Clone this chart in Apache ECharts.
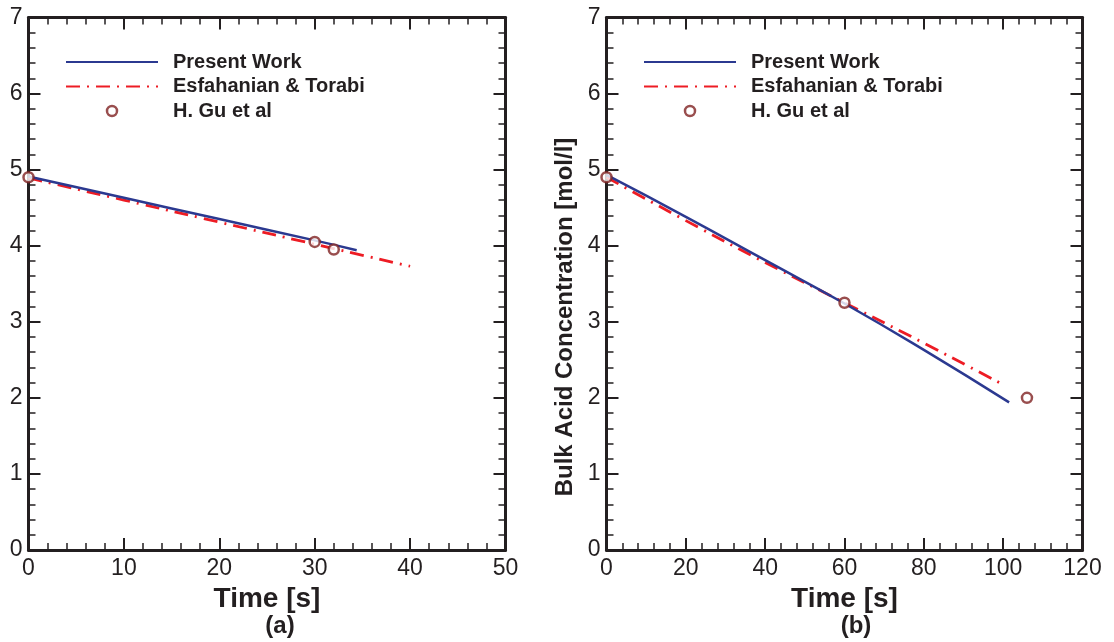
<!DOCTYPE html>
<html>
<head>
<meta charset="utf-8">
<script src="https://cdn.jsdelivr.net/npm/echarts@6/dist/echarts.min.js"></script>
<style>
html,body{margin:0;padding:0;background:#fff;}
#chart{width:1114px;height:642px;}
</style>
</head>
<body>
<div id="chart"></div>
<script>
// ---- Data (a) ----
const timeA_present = [0, 10, 20, 30, 34.4];
const concA_present = [4.91, 4.63, 4.35, 4.07, 3.94];
const timeA_esf = [0, 10, 20, 30, 40];
const concA_esf = [4.89, 4.60, 4.31, 4.02, 3.73];
const timeA_gu = [0, 30, 32];
const concA_gu = [4.9, 4.05, 3.95];
// ---- Data (b) ----
const timeB_present = [0, 20, 40, 60, 80, 101.5];
const concB_present = [4.93, 4.38, 3.81, 3.24, 2.63, 1.94];
const timeB_esf = [0, 20, 40, 60, 80, 99.4];
const concB_esf = [4.9, 4.33, 3.78, 3.25, 2.72, 2.19];
const timeB_gu = [0, 60, 106];
const concB_gu = [4.9, 3.25, 2.0];
// ---- Labels ----
const seriesNames = ['Present Work', 'Esfahanian & Torabi', 'H. Gu et al'];
const xTitle = 'Time [s]';
const yTitle = 'Bulk Acid Concentration [mol/l]';
const panelLabels = ['(a)', '(b)'];

const zip = (xs, ys) => xs.map((x, i) => [x, ys[i]]);

const INK = '#231f20';
const BLUE = '#2b3990';
const RED = '#ed1c24';
const BROWN = '#7f2222';
const FONT = '"Liberation Sans", Arial, sans-serif';

function xAxisCfg(gridIndex, pos, max, showLabel) {
  return {
    type: 'value', gridIndex, position: pos, min: 0, max, interval: max === 120 ? 20 : 10,
    axisLine: { show: true, onZero: false, lineStyle: { color: INK, width: 3 } },
    axisTick: { show: true, inside: true, length: 12, lineStyle: { color: INK, width: 2 } },
    minorTick: { show: true, splitNumber: 5, length: 7, lineStyle: { color: INK, width: 1.5 } },
    splitLine: { show: false },
    axisLabel: { show: showLabel, color: INK, fontSize: 23, fontFamily: FONT, margin: 7 },
    name: showLabel ? xTitle : '', nameLocation: 'middle', nameGap: 27,
    nameTextStyle: { color: INK, fontSize: 28, fontWeight: 'bold', fontFamily: FONT }
  };
}
function yAxisCfg(gridIndex, pos, showLabel) {
  return {
    type: 'value', gridIndex, position: pos, min: 0, max: 7, interval: 1,
    axisLine: { show: true, onZero: false, lineStyle: { color: INK, width: 3 } },
    axisTick: { show: true, inside: true, length: 12, lineStyle: { color: INK, width: 2 } },
    minorTick: { show: true, splitNumber: 5, length: 7, lineStyle: { color: INK, width: 1.5 } },
    splitLine: { show: false },
    axisLabel: { show: showLabel, color: INK, fontSize: 23, fontFamily: FONT, margin: 6 }
  };
}

function panelSeries(idx, tp, cp, te, ce, tg, cg) {
  return [
    { name: seriesNames[0], type: 'line', xAxisIndex: idx * 2, yAxisIndex: idx * 2, data: zip(tp, cp),
      symbol: 'none', showSymbol: false, smooth: true, z: 3, clip: false,
      lineStyle: { color: BLUE, width: 2.5 }, itemStyle: { color: BLUE } },
    { name: seriesNames[1], type: 'line', xAxisIndex: idx * 2, yAxisIndex: idx * 2, data: zip(te, ce),
      symbol: 'none', showSymbol: false, smooth: true, z: 2, clip: false,
      lineStyle: { color: RED, width: 2.8, type: [14, 7, 2, 7] }, itemStyle: { color: RED } },
    { name: seriesNames[2], type: 'scatter', xAxisIndex: idx * 2, yAxisIndex: idx * 2, data: zip(tg, cg),
      symbol: 'circle', symbolSize: 10, z: 4, clip: false,
      itemStyle: { color: '#fff', borderColor: BROWN, borderWidth: 2.5 } }
  ];
}

function legendCfg(left) {
  return {
    left, top: 47, orient: 'vertical', itemWidth: 92, itemHeight: 10, itemGap: 4.5,
    data: seriesNames.map(n => n === seriesNames[2]
      ? { name: n, icon: 'circle', itemStyle: { color: '#fff', borderColor: BROWN, borderWidth: 2.5 } }
      : { name: n, itemStyle: { opacity: 0 } }),
    textStyle: { color: INK, fontSize: 20, fontWeight: 'bold', fontFamily: FONT, lineHeight: 20, padding: [0, 0, 0, 10] },
    selectedMode: false
  };
}

const chart = echarts.init(document.getElementById('chart'), null, { renderer: 'canvas' });
chart.setOption({
  animation: false,
  backgroundColor: '#fff',
  grid: [
    { left: 28.5, top: 17.5, width: 477, height: 532.5 },
    { left: 606.5, top: 17.5, width: 476, height: 532.5 }
  ],
  xAxis: [
    xAxisCfg(0, 'bottom', 50, true), xAxisCfg(0, 'top', 50, false),
    xAxisCfg(1, 'bottom', 120, true), xAxisCfg(1, 'top', 120, false)
  ],
  yAxis: [
    yAxisCfg(0, 'left', true), yAxisCfg(0, 'right', false),
    yAxisCfg(1, 'left', true), yAxisCfg(1, 'right', false)
  ],
  legend: [legendCfg(60), legendCfg(638)],
  series: [
    ...panelSeries(0, timeA_present, concA_present, timeA_esf, concA_esf, timeA_gu, concA_gu),
    ...panelSeries(1, timeB_present, concB_present, timeB_esf, concB_esf, timeB_gu, concB_gu)
  ],
  graphic: [
    { type: 'text', x: 280, y: 626, style: { text: panelLabels[0], fill: INK, font: 'bold 24px ' + FONT, textAlign: 'center', textVerticalAlign: 'middle' } },
    { type: 'text', x: 856, y: 626, style: { text: panelLabels[1], fill: INK, font: 'bold 24px ' + FONT, textAlign: 'center', textVerticalAlign: 'middle' } },
    { type: 'text', x: 565, y: 317, rotation: Math.PI / 2, style: { text: yTitle, fill: INK, font: 'bold 24px ' + FONT, textAlign: 'center', textVerticalAlign: 'middle' } }
  ]
});
</script>
</body>
</html>
